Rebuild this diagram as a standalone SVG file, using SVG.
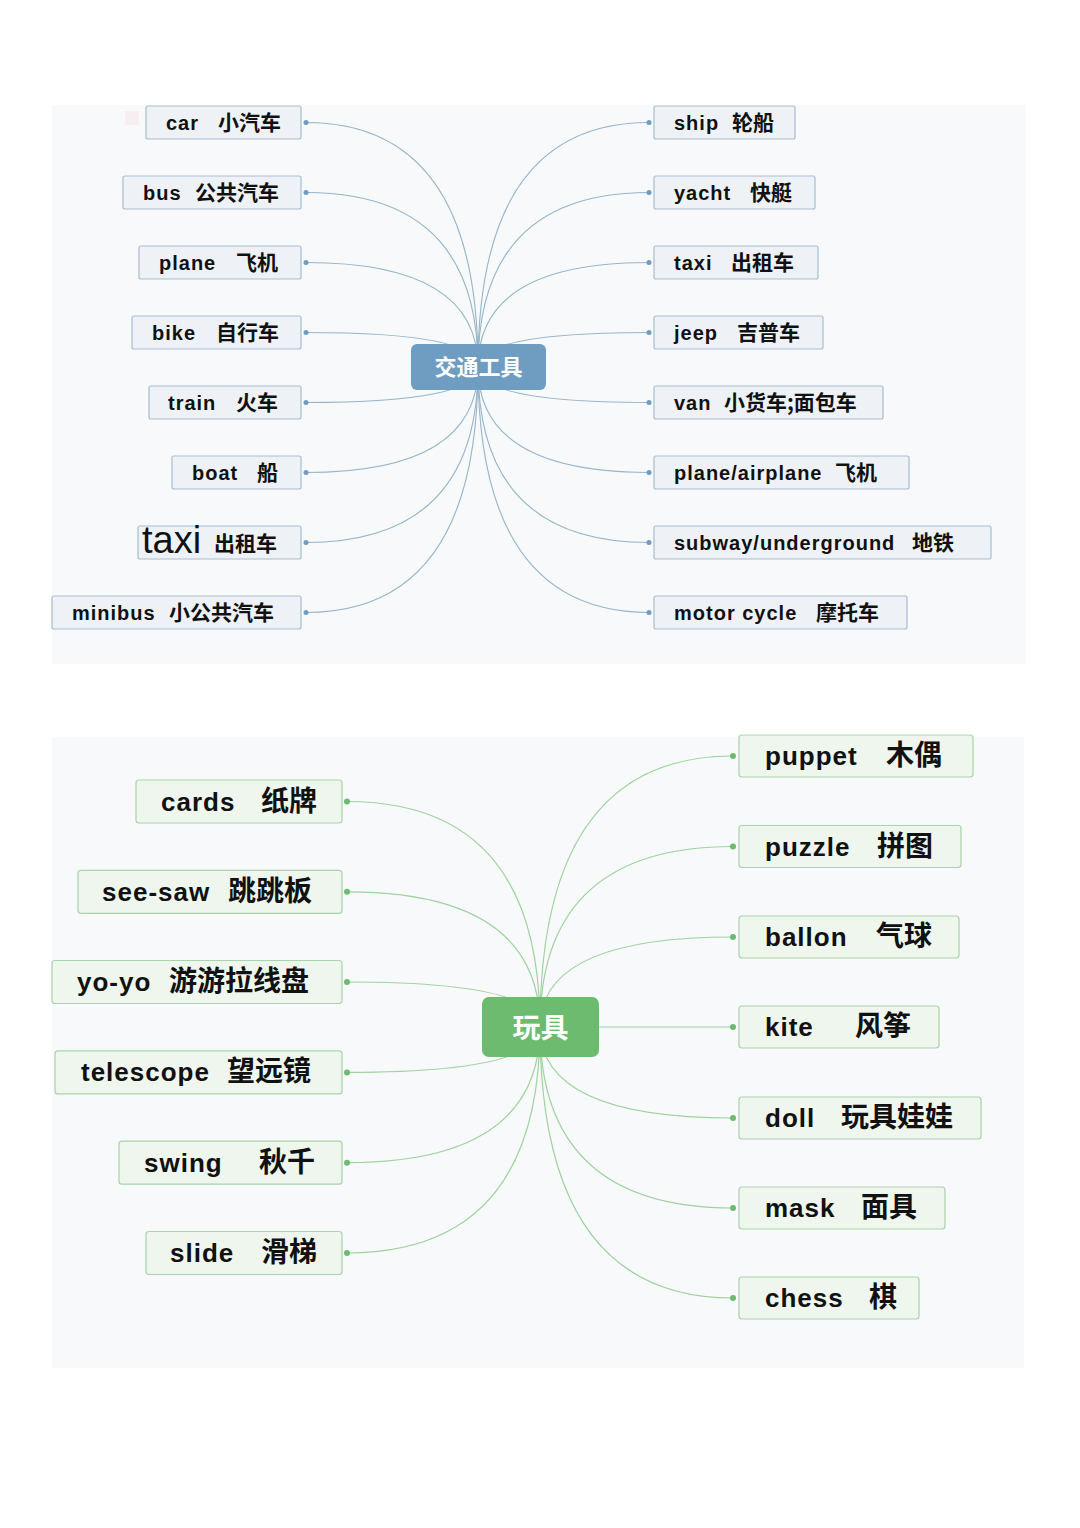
<svg xmlns="http://www.w3.org/2000/svg" width="1080" height="1528" viewBox="0 0 1080 1528">
<style>
.bg{fill:#f8f9fa}
.tb{fill:#eef2f6;stroke:#a7bdd1;stroke-width:1.2}
.gb{fill:#eef6ee;stroke:#a9d3aa;stroke-width:1.2}
.tl{fill:none;stroke:#97b4ca;stroke-width:1.1}
.gl{fill:none;stroke:#9ed29f;stroke-width:1.2}
.td{fill:#6f9cc0}
.gd{fill:#6dbb73}
text{font-family:"Liberation Sans","Noto Sans CJK SC",sans-serif;font-weight:bold;fill:#111}
.e1{font-size:20px;letter-spacing:1px}
.c1{font-size:21px;font-family:"Noto Sans CJK SC",sans-serif}
.e2{font-size:26px;letter-spacing:1px}
.c2{font-size:28px;font-family:"Noto Sans CJK SC",sans-serif}
.hub{fill:#fff;font-family:"Noto Sans CJK SC",sans-serif}
</style>
<rect width="1080" height="1528" fill="#fff"/>
<rect class="bg" x="52" y="105" width="974" height="559"/>
<rect class="bg" x="52" y="737" width="972" height="631"/>
<rect x="125" y="111" width="14" height="14" fill="#f6eef0"/>

<g id="connectors">
<path class="tl" d="M478,367 Q478,122.5 306,122.5"/>
<path class="tl" d="M478,367 Q478,192.5 306,192.5"/>
<path class="tl" d="M478,367 Q478,262.5 306,262.5"/>
<path class="tl" d="M478,367 Q478,332.5 306,332.5"/>
<path class="tl" d="M478,367 Q478,402.5 306,402.5"/>
<path class="tl" d="M478,367 Q478,472.5 306,472.5"/>
<path class="tl" d="M478,367 Q478,542.5 306,542.5"/>
<path class="tl" d="M478,367 Q478,612.5 306,612.5"/>
<path class="tl" d="M478,367 Q478,122.5 649,122.5"/>
<path class="tl" d="M478,367 Q478,192.5 649,192.5"/>
<path class="tl" d="M478,367 Q478,262.5 649,262.5"/>
<path class="tl" d="M478,367 Q478,332.5 649,332.5"/>
<path class="tl" d="M478,367 Q478,402.5 649,402.5"/>
<path class="tl" d="M478,367 Q478,472.5 649,472.5"/>
<path class="tl" d="M478,367 Q478,542.5 649,542.5"/>
<path class="tl" d="M478,367 Q478,612.5 649,612.5"/>
<g>
<circle class="td" cx="306" cy="122.5" r="2.5"/><circle class="td" cx="306" cy="192.5" r="2.5"/>
<circle class="td" cx="306" cy="262.5" r="2.5"/><circle class="td" cx="306" cy="332.5" r="2.5"/>
<circle class="td" cx="306" cy="402.5" r="2.5"/><circle class="td" cx="306" cy="472.5" r="2.5"/>
<circle class="td" cx="306" cy="542.5" r="2.5"/><circle class="td" cx="306" cy="612.5" r="2.5"/>
<circle class="td" cx="649" cy="122.5" r="2.5"/><circle class="td" cx="649" cy="192.5" r="2.5"/>
<circle class="td" cx="649" cy="262.5" r="2.5"/><circle class="td" cx="649" cy="332.5" r="2.5"/>
<circle class="td" cx="649" cy="402.5" r="2.5"/><circle class="td" cx="649" cy="472.5" r="2.5"/>
<circle class="td" cx="649" cy="542.5" r="2.5"/><circle class="td" cx="649" cy="612.5" r="2.5"/>
</g>
<path class="gl" d="M540,1027 Q540,801.5 347,801.5"/>
<path class="gl" d="M540,1027 Q540,891.8 347,891.8"/>
<path class="gl" d="M540,1027 Q540,982 347,982"/>
<path class="gl" d="M540,1027 Q540,1072.4 347,1072.4"/>
<path class="gl" d="M540,1027 Q540,1162.7 347,1162.7"/>
<path class="gl" d="M540,1027 Q540,1253 347,1253"/>
<path class="gl" d="M540,1027 Q540,756 733,756"/>
<path class="gl" d="M540,1027 Q540,846.5 733,846.5"/>
<path class="gl" d="M540,1027 Q540,937 733,937"/>
<path class="gl" d="M540,1027 L733,1027"/>
<path class="gl" d="M540,1027 Q540,1118 733,1118"/>
<path class="gl" d="M540,1027 Q540,1208 733,1208"/>
<path class="gl" d="M540,1027 Q540,1298 733,1298"/>
<g>
<circle class="gd" cx="347" cy="801.5" r="3"/><circle class="gd" cx="347" cy="891.8" r="3"/>
<circle class="gd" cx="347" cy="982" r="3"/><circle class="gd" cx="347" cy="1072.4" r="3"/>
<circle class="gd" cx="347" cy="1162.7" r="3"/><circle class="gd" cx="347" cy="1253" r="3"/>
<circle class="gd" cx="733" cy="756" r="3"/><circle class="gd" cx="733" cy="846.5" r="3"/>
<circle class="gd" cx="733" cy="937" r="3"/><circle class="gd" cx="733" cy="1027" r="3"/>
<circle class="gd" cx="733" cy="1118" r="3"/><circle class="gd" cx="733" cy="1208" r="3"/>
<circle class="gd" cx="733" cy="1298" r="3"/>
</g>
</g>

<g id="hub-transport">
<rect x="411" y="344" width="135" height="46" rx="6" fill="#6f9dc1"/>
<text class="hub" x="478.5" y="375" font-size="22" text-anchor="middle">交通工具</text>
</g>

<g id="n-car"><rect class="tb" x="146" y="106" width="155" height="33" rx="2"/>
<text y="130"><tspan class="e1" x="166">car</tspan><tspan class="c1" x="218">小汽车</tspan></text></g>
<g id="n-bus"><rect class="tb" x="123" y="176" width="178" height="33" rx="2"/>
<text y="200"><tspan class="e1" x="143">bus</tspan><tspan class="c1" x="195">公共汽车</tspan></text></g>
<g id="n-plane"><rect class="tb" x="139" y="246" width="162" height="33" rx="2"/>
<text y="270"><tspan class="e1" x="159">plane</tspan><tspan class="c1" x="236">飞机</tspan></text></g>
<g id="n-bike"><rect class="tb" x="132" y="316" width="169" height="33" rx="2"/>
<text y="340"><tspan class="e1" x="152">bike</tspan><tspan class="c1" x="216">自行车</tspan></text></g>
<g id="n-train"><rect class="tb" x="149" y="386" width="152" height="33" rx="2"/>
<text y="410"><tspan class="e1" x="168">train</tspan><tspan class="c1" x="236">火车</tspan></text></g>
<g id="n-boat"><rect class="tb" x="172" y="456" width="129" height="33" rx="2"/>
<text y="480"><tspan class="e1" x="192">boat</tspan><tspan class="c1" x="257">船</tspan></text></g>
<g id="n-taxi-left"><rect class="tb" x="138" y="526" width="163" height="33" rx="2"/>
<text y="553"><tspan x="142" font-size="38" font-weight="normal">taxi</tspan><tspan class="c1" x="214" dy="-2">出租车</tspan></text></g>
<g id="n-minibus"><rect class="tb" x="52" y="596" width="249" height="33" rx="2"/>
<text y="620"><tspan class="e1" x="72">minibus</tspan><tspan class="c1" x="169">小公共汽车</tspan></text></g>

<g id="n-ship"><rect class="tb" x="654" y="106" width="141" height="33" rx="2"/>
<text y="130"><tspan class="e1" x="674">ship</tspan><tspan class="c1" x="732">轮船</tspan></text></g>
<g id="n-yacht"><rect class="tb" x="654" y="176" width="161" height="33" rx="2"/>
<text y="200"><tspan class="e1" x="674">yacht</tspan><tspan class="c1" x="750">快艇</tspan></text></g>
<g id="n-taxi-right"><rect class="tb" x="654" y="246" width="164" height="33" rx="2"/>
<text y="270"><tspan class="e1" x="674">taxi</tspan><tspan class="c1" x="731">出租车</tspan></text></g>
<g id="n-jeep"><rect class="tb" x="654" y="316" width="169" height="33" rx="2"/>
<text y="340"><tspan class="e1" x="674">jeep</tspan><tspan class="c1" x="737">吉普车</tspan></text></g>
<g id="n-van"><rect class="tb" x="654" y="386" width="229" height="33" rx="2"/>
<text y="410"><tspan class="e1" x="674">van</tspan><tspan class="c1" x="724">小货车;面包车</tspan></text></g>
<g id="n-airplane"><rect class="tb" x="654" y="456" width="255" height="33" rx="2"/>
<text y="480"><tspan class="e1" x="674">plane/airplane</tspan><tspan class="c1" x="835">飞机</tspan></text></g>
<g id="n-subway"><rect class="tb" x="654" y="526" width="337" height="33" rx="2"/>
<text y="550"><tspan class="e1" x="674">subway/underground</tspan><tspan class="c1" x="912">地铁</tspan></text></g>
<g id="n-motorcycle"><rect class="tb" x="654" y="596" width="253" height="33" rx="2"/>
<text y="620"><tspan class="e1" x="674">motor cycle</tspan><tspan class="c1" x="816">摩托车</tspan></text></g>

<g id="hub-toys">
<rect x="482" y="997" width="117" height="60" rx="7" fill="#6cbb6f"/>
<text class="hub" x="540.5" y="1038" font-size="28" text-anchor="middle">玩具</text>
</g>

<g id="n-cards"><rect class="gb" x="136" y="780" width="206" height="43" rx="3"/>
<text y="810.5"><tspan class="e2" x="161">cards</tspan><tspan class="c2" x="261">纸牌</tspan></text></g>
<g id="n-seesaw"><rect class="gb" x="78" y="870.3" width="264" height="43" rx="3"/>
<text y="900.8"><tspan class="e2" x="102">see-saw</tspan><tspan class="c2" x="228">跳跳板</tspan></text></g>
<g id="n-yoyo"><rect class="gb" x="52" y="960.5" width="290" height="43" rx="3"/>
<text y="991"><tspan class="e2" x="77">yo-yo</tspan><tspan class="c2" x="169">游游拉线盘</tspan></text></g>
<g id="n-telescope"><rect class="gb" x="55" y="1050.9" width="287" height="43" rx="3"/>
<text y="1081.4"><tspan class="e2" x="81">telescope</tspan><tspan class="c2" x="227">望远镜</tspan></text></g>
<g id="n-swing"><rect class="gb" x="119" y="1141.2" width="223" height="43" rx="3"/>
<text y="1171.7"><tspan class="e2" x="144">swing</tspan><tspan class="c2" x="259">秋千</tspan></text></g>
<g id="n-slide"><rect class="gb" x="146" y="1231.5" width="196" height="43" rx="3"/>
<text y="1262"><tspan class="e2" x="170">slide</tspan><tspan class="c2" x="261">滑梯</tspan></text></g>

<g id="n-puppet"><rect class="gb" x="739" y="735" width="234" height="42" rx="3"/>
<text y="765"><tspan class="e2" x="765">puppet</tspan><tspan class="c2" x="886">木偶</tspan></text></g>
<g id="n-puzzle"><rect class="gb" x="739" y="825.5" width="222" height="42" rx="3"/>
<text y="855.5"><tspan class="e2" x="765">puzzle</tspan><tspan class="c2" x="877">拼图</tspan></text></g>
<g id="n-ballon"><rect class="gb" x="739" y="916" width="220" height="42" rx="3"/>
<text y="946"><tspan class="e2" x="765">ballon</tspan><tspan class="c2" x="876">气球</tspan></text></g>
<g id="n-kite"><rect class="gb" x="739" y="1006" width="200" height="42" rx="3"/>
<text y="1036"><tspan class="e2" x="765">kite</tspan><tspan class="c2" x="855">风筝</tspan></text></g>
<g id="n-doll"><rect class="gb" x="739" y="1097" width="242" height="42" rx="3"/>
<text y="1127"><tspan class="e2" x="765">doll</tspan><tspan class="c2" x="841">玩具娃娃</tspan></text></g>
<g id="n-mask"><rect class="gb" x="739" y="1187" width="206" height="42" rx="3"/>
<text y="1217"><tspan class="e2" x="765">mask</tspan><tspan class="c2" x="861">面具</tspan></text></g>
<g id="n-chess"><rect class="gb" x="739" y="1277" width="180" height="42" rx="3"/>
<text y="1307"><tspan class="e2" x="765">chess</tspan><tspan class="c2" x="869">棋</tspan></text></g>
</svg>
